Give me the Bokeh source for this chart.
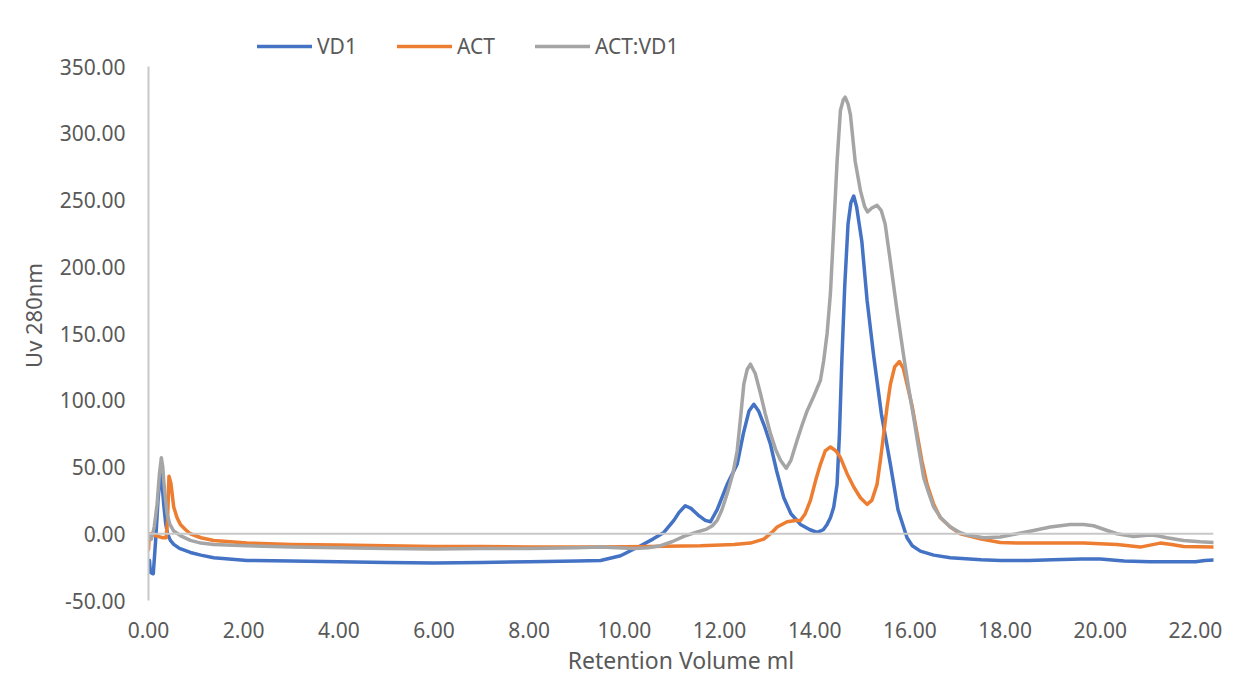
from bokeh.plotting import figure
from bokeh.models import Range1d, Span, Legend, LegendItem, FixedTicker, NumeralTickFormatter
from bokeh.embed import file_html
from bokeh.resources import INLINE

# ---- data ----
vd1_x = [0.00, 0.02, 0.04, 0.10, 0.13, 0.15, 0.20, 0.25, 0.28, 0.32, 0.36, 0.40, 0.46, 0.53, 0.65, 0.88,
         1.10, 1.37, 2.07, 3.0, 4.0, 5.0, 6.0, 7.0, 8.0, 9.0, 9.5, 9.92, 10.34, 10.6, 10.83, 11.04,
         11.15, 11.28, 11.40, 11.55, 11.70, 11.81, 11.95, 12.05, 12.16, 12.37, 12.50, 12.62, 12.72,
         12.82, 12.95, 13.07, 13.20, 13.35, 13.50, 13.70, 13.90, 14.05, 14.18, 14.26, 14.33, 14.40,
         14.47, 14.52, 14.57, 14.63, 14.70, 14.76, 14.82, 14.88, 14.99, 15.10, 15.24, 15.40, 15.59,
         15.75, 15.94, 16.05, 16.22, 16.50, 16.85, 17.5, 17.9, 18.5, 19.0, 19.6, 20.0, 20.5, 21.05,
         21.5, 22.0, 22.2, 22.38]
vd1_y = [-22, -20, -29, -30, -15, -5, 25, 45, 40, 22, 8, 0, -5, -8, -11, -14,
         -16, -18, -20, -20.5, -21, -21.5, -22, -21.5, -21, -20.5, -20, -16.5, -9, -4, 1, 10,
         16, 21, 19, 14, 10, 9, 18, 27, 37, 52, 75, 92, 97,
         92, 80, 67, 47, 27, 15, 7, 3, 1, 3, 7, 12, 20,
         37, 75, 130, 185, 232, 248, 253, 245, 219, 175, 133, 90, 52,
         18, -3, -9, -13, -16, -18, -19.5, -20, -20, -19.5, -19, -19, -20.5, -21,
         -21, -21, -20, -19.7]

act_x = [0.00, 0.02, 0.10, 0.20, 0.30, 0.37, 0.40, 0.43, 0.47, 0.53, 0.60, 0.67, 0.78, 0.88, 1.10, 1.37,
         2.07, 3.0, 4.0, 5.0, 6.0, 7.0, 8.0, 9.0, 9.5, 10.5, 11.6, 12.3, 12.65, 12.93, 13.10, 13.21,
         13.42, 13.60, 13.70, 13.80, 13.91, 14.02, 14.12, 14.22, 14.33, 14.45, 14.54, 14.68, 14.82,
         14.96, 15.10, 15.20, 15.31, 15.38, 15.45, 15.52, 15.59, 15.68, 15.78, 15.86, 15.94, 16.05,
         16.15, 16.25, 16.36, 16.50, 16.64, 16.85, 17.06, 17.5, 17.9, 18.25, 19.0, 19.65, 20.35,
         20.6, 20.84, 21.05, 21.26, 21.5, 21.75, 22.38]
act_y = [-12, 0, -1, -2, -3, -3, 10, 43, 38, 20, 12, 7, 3, 0, -3, -5,
         -7, -8, -8.5, -9, -9.5, -9.5, -10, -10, -10, -9.5, -9, -8, -7, -4, 1, 5,
         9, 10, 10, 15, 25, 40, 52, 62, 65, 62, 57, 45, 35,
         27, 22, 25, 37, 55, 75, 95, 112, 125, 129, 124, 112, 95,
         75, 55, 37, 22, 12, 5, 0, -4, -6.5, -7, -7, -7, -8,
         -9, -10, -8.5, -7, -8, -9.5, -10]

mix_x = [0.00, 0.03, 0.06, 0.12, 0.18, 0.23, 0.27, 0.30, 0.32, 0.36, 0.39, 0.45, 0.53, 0.70, 0.88, 1.10,
         1.37, 2.07, 3.0, 4.0, 5.0, 6.0, 7.0, 8.0, 9.0, 9.5, 10.2, 10.5, 10.76, 11.0, 11.25, 11.5,
         11.73, 11.85, 11.95, 12.05, 12.16, 12.28, 12.37, 12.45, 12.51, 12.58, 12.65, 12.75, 12.86,
         12.96, 13.07, 13.18, 13.28, 13.40, 13.50, 13.63, 13.74, 13.84, 13.98, 14.12, 14.19, 14.26,
         14.33, 14.40, 14.47, 14.54, 14.60, 14.64, 14.70, 14.75, 14.85, 14.96, 15.05, 15.11, 15.20,
         15.31, 15.40, 15.48, 15.59, 15.73, 15.87, 15.97, 16.08, 16.18, 16.29, 16.40, 16.50, 16.65,
         16.85, 17.05, 17.20, 17.55, 17.9, 18.25, 18.6, 18.95, 19.37, 19.65, 19.86, 20.1, 20.35,
         20.7, 21.05, 21.2, 21.4, 21.75, 22.1, 22.38]
mix_y = [0, -2, -4, 5, 22, 45, 57, 50, 40, 25, 15, 7, 2, -2, -5, -7,
         -8, -9, -10, -10.5, -11, -11.5, -11, -11, -10.5, -10, -11, -10.5, -9, -6, -2, 1,
         3.5, 6, 10, 18, 30, 45, 62, 90, 112, 123, 127, 120, 105,
         90, 75, 63, 55, 49, 55, 70, 82, 92, 103, 115, 130, 150,
         180, 229, 279, 317, 325, 327, 322, 314, 279, 257, 245, 241, 244,
         246, 242, 232, 204, 167, 133, 110, 87, 65, 42, 30, 20, 12,
         5, 1, -1, -3, -2.5, 0, 2.5, 5, 7, 7, 6, 3, 0,
         -2, -1, -1.5, -3, -5, -6, -6.5]

series_names = ["VD1", "ACT", "ACT:VD1"]
series_colors = ["#4472C4", "#ED7D31", "#A5A5A5"]
x_ticks = [0, 2, 4, 6, 8, 10, 12, 14, 16, 18, 20, 22]
y_ticks = [-50, 0, 50, 100, 150, 200, 250, 300, 350]

FONT = "Noto Sans"
TXT = "#595959"
AXC = "#C8C8C8"

# frame: 1065 px wide, 534 px for -50..350; extended upward to hold the legend
p = figure(width=1250, height=685, output_backend="svg", toolbar_location=None,
           x_range=Range1d(0, 22.38), y_range=Range1d(-50, 376.97),
           min_border_left=148, min_border_right=37, min_border_top=30, min_border_bottom=85)
p.outline_line_color = None
p.xgrid.grid_line_color = None
p.ygrid.grid_line_color = None

renderers = []
for xs, ys, c in [(vd1_x, vd1_y, series_colors[0]), (act_x, act_y, series_colors[1]), (mix_x, mix_y, series_colors[2])]:
    r = p.line(xs, ys, line_color=c, line_width=3.5, line_join="round", line_cap="round")
    renderers.append(r)

p.add_layout(Span(location=0, dimension="width", line_color=AXC, line_width=2), "center")

# x axis
xa = p.xaxis[0]
xa.ticker = FixedTicker(ticks=x_ticks)
xa.formatter = NumeralTickFormatter(format="0.00")
xa.axis_line_color = None
xa.major_tick_line_color = None
xa.minor_tick_line_color = None
xa.major_label_text_font = FONT
xa.major_label_text_font_size = "21px"
xa.major_label_text_color = TXT
xa.major_label_standoff = 15
xa.axis_label = "Retention Volume ml"
xa.axis_label_text_font = FONT
xa.axis_label_text_font_size = "23px"
xa.axis_label_text_font_style = "normal"
xa.axis_label_text_color = TXT
xa.axis_label_standoff = 3

# y axis
ya = p.yaxis[0]
ya.ticker = FixedTicker(ticks=y_ticks)
ya.bounds = (-50, 350)
ya.formatter = NumeralTickFormatter(format="0.00")
ya.axis_line_color = AXC
ya.axis_line_width = 2
ya.major_tick_line_color = None
ya.minor_tick_line_color = None
ya.major_label_text_font = FONT
ya.major_label_text_font_size = "21px"
ya.major_label_text_color = TXT
ya.major_label_standoff = 17
ya.axis_label = "Uv 280nm"
ya.axis_label_text_font = FONT
ya.axis_label_text_font_size = "22px"
ya.axis_label_text_font_style = "normal"
ya.axis_label_text_color = TXT
ya.axis_label_standoff = 9

legend = Legend(items=[LegendItem(label=n, renderers=[r]) for n, r in zip(series_names, renderers)],
                orientation="horizontal", location=(109, 540),
                glyph_width=55, glyph_height=20, label_standoff=5, spacing=40,
                padding=0, margin=0, border_line_color=None, background_fill_alpha=0,
                label_text_font=FONT, label_text_font_size="21px", label_text_color=TXT)
p.add_layout(legend, "center")

open("out.html", "w").write(file_html(p, INLINE))
